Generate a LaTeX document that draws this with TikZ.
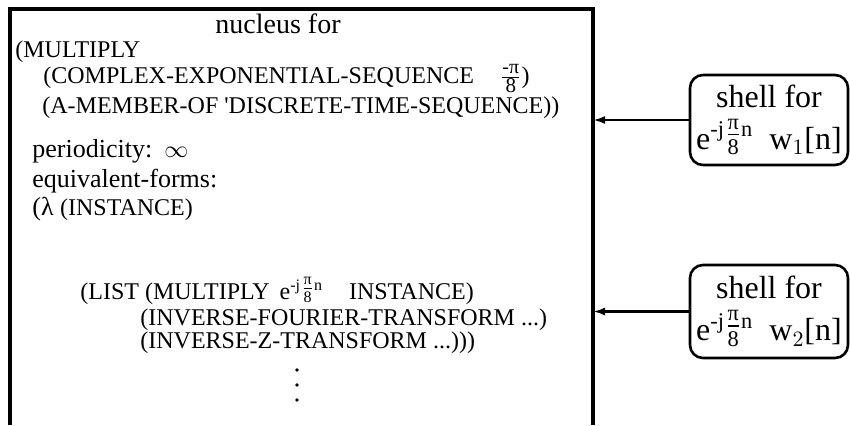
\documentclass[tikz,border=0pt]{standalone}
\usepackage{amsmath}
\usepackage{fontspec}
\setmainfont{Liberation Serif}
\usetikzlibrary{arrows.meta}

\newcommand{\expTerm}{e\textsuperscript{-j}\raisebox{0.2em}{$\frac{\text{π}}{\text{8}}$}\textsuperscript{n}}
\newcommand{\negPiFrac}{$\frac{\mbox{\fontsize{10}{10}\selectfont -π}}{\mbox{\fontsize{10.5}{10.5}\selectfont 8}}$}

\begin{document}
\begin{tikzpicture}[x=0.5pt, y=-0.5pt,
    capsText/.style={anchor=base west, inner sep=0pt, font=\fontsize{12}{14}\selectfont},
    wordText/.style={anchor=base west, inner sep=0pt, font=\fontsize{13}{15}\selectfont},
    shellBox/.style={draw, line width=1.3pt, rounded corners=6.5pt, align=center,
        minimum width=79pt, inner sep=0pt, font=\fontsize{16}{21}\selectfont},
    conn/.style={line width=1.3pt, -{Latex[length=6pt,width=4pt]}}]
    \useasboundingbox (0,0) rectangle (850,425);

    % Draw nucleus frame (open at the bottom)
    \draw[line width=1.8pt] (10,425) -- (10,9) -- (593,9) -- (593,425);
    \coordinate (nucEdge) at (593,9);

    % Nucleus contents
    \node[anchor=base west, inner sep=0pt, font=\fontsize{14}{16}\selectfont] (title) at (215,33) {nucleus for};
    \node[capsText] (mult) at (15,57) {(MULTIPLY};
    \node[capsText] (cexp) at (43,83) {(COMPLEX-EXPONENTIAL-SEQUENCE\hspace{13pt}\negPiFrac)};
    \node[capsText] (amem) at (42,113) {(A-MEMBER-OF \textquotesingle DISCRETE-TIME-SEQUENCE))};
    \node[wordText] (period) at (32,157) {periodicity:\hspace{6pt}$\infty$};
    \node[wordText] (equiv) at (32,187) {equivalent-forms:};
    \node[wordText] (lam) at (32,215) {(λ \fontsize{12}{14}\selectfont(INSTANCE)};
    \node[capsText] (list) at (80,299) {(LIST (MULTIPLY\hspace{5pt}\expTerm\hspace{13pt}INSTANCE)};
    \node[capsText] (ift) at (140,325) {(INVERSE-FOURIER-TRANSFORM ...)};
    \node[capsText] (izt) at (140,348) {(INVERSE-Z-TRANSFORM ...)))};

    % Vertical dots
    \foreach \y in {370,385,400}
        \fill (297,\y) circle (0.9pt);

    % Shells
    \node[shellBox, minimum height=45pt] (shellA) at (769,120) {shell for\\\expTerm\hspace{8pt}w$_1$[n]};
    \node[shellBox, minimum height=46.5pt] (shellB) at (769,311.5) {shell for\\\expTerm\hspace{8pt}w$_2$[n]};

    % Shell to nucleus arrows
    \draw[conn] (shellA.west) -- (shellA.west -| nucEdge);
    \draw[conn] (shellB.west) -- (shellB.west -| nucEdge);

\end{tikzpicture}
\end{document}
